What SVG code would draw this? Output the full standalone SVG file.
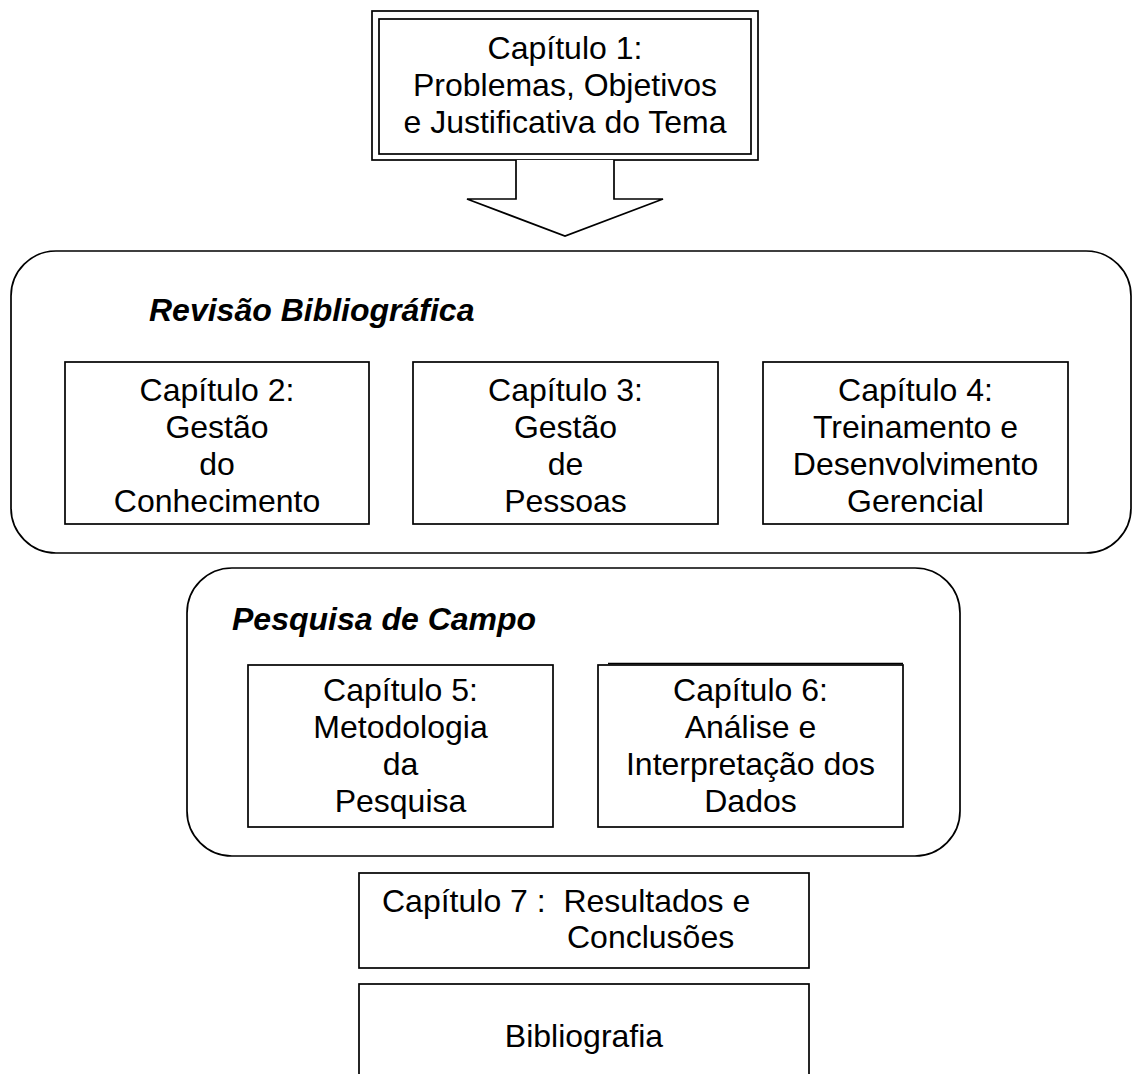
<svg xmlns="http://www.w3.org/2000/svg" width="1132" height="1074" viewBox="0 0 1132 1074">
<style>
  .box { fill: #fff; stroke: #000; stroke-width: 1.7; }
  .grp { fill: #fff; stroke: #000; stroke-width: 1.7; }
  .t { font-family: "Liberation Sans", Arial, sans-serif; font-size: 32px; fill: #000; text-anchor: middle; }
  .h { font-family: "Liberation Sans", Arial, sans-serif; font-size: 32px; font-weight: bold; font-style: italic; fill: #000; }
  .l { font-family: "Liberation Sans", Arial, sans-serif; font-size: 32px; fill: #000; white-space: pre; }
</style>
<rect width="1132" height="1074" fill="#fff"/>

<g id="revisao">
  <rect class="grp" x="11" y="251" width="1120" height="302" rx="45" ry="45"/>
  <text class="h" x="149" y="321">Revisão Bibliográfica</text>
</g>

<g id="pesquisa">
  <rect class="grp" x="187" y="568" width="773" height="288" rx="45" ry="45"/>
  <text class="h" x="232" y="630">Pesquisa de Campo</text>
</g>

<g id="cap1">
  <rect class="box" x="372" y="11" width="386" height="149"/>
  <rect class="box" x="379" y="19" width="372" height="135"/>
  <text class="t" x="565" y="59">Capítulo 1:</text>
  <text class="t" x="565" y="96">Problemas, Objetivos</text>
  <text class="t" x="565" y="133">e Justificativa do Tema</text>
</g>

<g id="connectors">
  <polyline points="516,160 516,199 467,199 565,236 663,199 614,199 614,160" fill="#fff" stroke="#000" stroke-width="1.7" stroke-linejoin="miter"/>
</g>

<g id="cap2">
  <rect class="box" x="65" y="362" width="304" height="162"/>
  <text class="t" x="217" y="401">Capítulo 2:</text>
  <text class="t" x="217" y="438">Gestão</text>
  <text class="t" x="217" y="475">do</text>
  <text class="t" x="217" y="512">Conhecimento</text>
</g>

<g id="cap3">
  <rect class="box" x="413" y="362" width="305" height="162"/>
  <text class="t" x="565.5" y="401">Capítulo 3:</text>
  <text class="t" x="565.5" y="438">Gestão</text>
  <text class="t" x="565.5" y="475">de</text>
  <text class="t" x="565.5" y="512">Pessoas</text>
</g>

<g id="cap4">
  <rect class="box" x="763" y="362" width="305" height="162"/>
  <text class="t" x="915.5" y="401">Capítulo 4:</text>
  <text class="t" x="915.5" y="438">Treinamento e</text>
  <text class="t" x="915.5" y="475">Desenvolvimento</text>
  <text class="t" x="915.5" y="512">Gerencial</text>
</g>

<g id="cap5">
  <rect class="box" x="248" y="665" width="305" height="162"/>
  <text class="t" x="400.5" y="701">Capítulo 5:</text>
  <text class="t" x="400.5" y="738">Metodologia</text>
  <text class="t" x="400.5" y="775">da</text>
  <text class="t" x="400.5" y="812">Pesquisa</text>
</g>

<g id="cap6">
  <rect class="box" x="598" y="665" width="305" height="162"/>
  <line x1="608" y1="663.5" x2="903" y2="663.5" stroke="#000" stroke-width="1.6"/>
  <text class="t" x="750.5" y="701">Capítulo 6:</text>
  <text class="t" x="750.5" y="738">Análise e</text>
  <text class="t" x="750.5" y="775">Interpretação dos</text>
  <text class="t" x="750.5" y="812">Dados</text>
</g>

<g id="cap7">
  <rect class="box" x="359" y="873" width="450" height="95"/>
  <text class="l" x="382" y="912">Capítulo 7 :  Resultados e</text>
  <text class="l" x="567" y="948">Conclusões</text>
</g>

<g id="bibliografia">
  <rect class="box" x="359" y="984" width="450" height="100"/>
  <text class="t" x="584" y="1047">Bibliografia</text>
</g>
</svg>
